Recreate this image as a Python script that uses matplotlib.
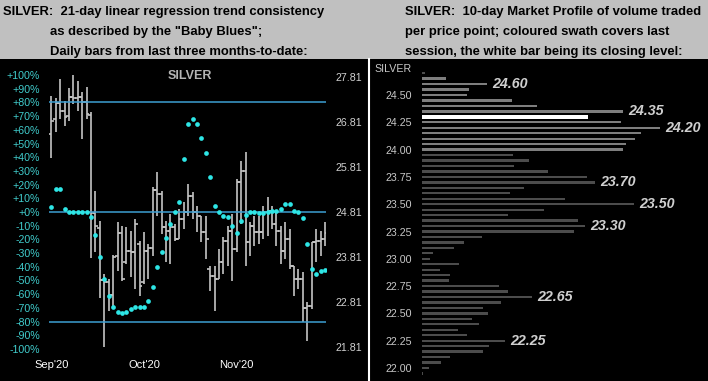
import numpy as np
import matplotlib.pyplot as plt
from matplotlib.patches import Rectangle
from matplotlib.lines import Line2D

plt.rcParams['font.family'] = ['Liberation Sans', 'DejaVu Sans']

# --- left panel: daily OHLC bars + "Baby Blues" (21-day trend consistency, %) ---
highs = [27.39, 27.34, 27.77, 27.28, 27.56, 27.88, 27.71, 27.47, 27.58, 27.03,
         25.28, 24.60, 23.43, 23.32, 23.85, 24.59, 24.50, 24.48, 24.39, 24.65,
         24.17, 24.37, 24.10, 25.37, 25.70, 25.28, 24.61, 24.77, 24.54, 24.88,
         25.03, 25.43, 25.25, 24.94, 24.72, 24.72, 23.61, 23.61, 23.99, 24.25,
         24.50, 24.77, 25.54, 25.94, 26.14, 24.59, 24.72, 24.72, 24.94, 25.14,
         24.94, 24.81, 24.50, 24.59, 24.43, 23.61, 23.54, 23.48, 22.81, 24.14,
         24.43, 24.39, 24.59]
lows = [26.00, 26.58, 26.88, 26.73, 26.84, 27.21, 27.06, 26.43, 26.88, 23.79,
        23.92, 22.90, 21.81, 22.61, 22.70, 23.50, 23.28, 23.65, 23.37, 23.10,
        22.94, 23.21, 23.32, 23.83, 24.72, 24.32, 23.70, 23.65, 24.17, 24.21,
        24.43, 24.72, 24.65, 24.37, 24.14, 23.77, 23.05, 22.61, 23.32, 23.43,
        23.61, 23.28, 23.92, 24.54, 23.61, 23.83, 24.05, 24.10, 24.21, 24.28,
        24.43, 24.05, 23.65, 23.77, 23.54, 22.94, 23.10, 22.37, 21.94, 22.65,
        23.70, 23.83, 24.05]
opens = [26.54, 26.88, 27.23, 27.06, 26.94, 27.36, 27.34, 27.36, 27.26, 26.97,
         24.79, 24.45, 23.30, 23.25, 22.97, 23.83, 24.34, 23.70, 23.94, 23.92,
         24.10, 23.25, 23.94, 24.01, 25.30, 25.21, 24.48, 24.39, 24.48, 24.21,
         24.65, 24.81, 25.17, 24.81, 24.72, 24.37, 23.55, 23.39, 23.32, 23.70,
         24.17, 24.39, 23.99, 25.48, 25.72, 24.14, 24.50, 24.37, 24.37, 24.81,
         24.83, 24.54, 24.39, 23.94, 24.21, 23.61, 23.32, 23.32, 22.68, 22.72,
         24.14, 24.17, 24.21]
closes = [26.84, 27.23, 27.06, 26.93, 27.36, 27.34, 27.36, 27.26, 26.99, 24.79,
          24.51, 23.30, 23.25, 22.97, 23.81, 24.34, 23.32, 23.94, 23.92, 24.55,
          23.17, 23.94, 24.01, 25.30, 25.21, 24.48, 24.39, 24.48, 24.21, 24.65,
          24.81, 25.17, 24.81, 24.72, 24.37, 24.21, 23.39, 23.32, 23.70, 24.17,
          24.39, 23.99, 25.48, 25.72, 24.14, 24.50, 24.37, 24.37, 24.81, 24.83,
          24.54, 24.39, 23.94, 24.21, 23.61, 23.32, 23.32, 22.68, 22.72, 24.14,
          24.17, 24.21, 24.34]
blues = [4, 16.5, 16.5, 2.4, 0, 0, 0, 0, 0, -4,
         -17, -33, -49, -61, -69, -73, -74, -73, -71, -69,
         -69, -69, -65, -55, -40, -29, -19, -9, 0, 7.5,
         39, 64, 68, 64, 54, 43, 25.7, 4.6, 0, -2.7,
         -3.4, -10, -15.5, -6.5, -2, 0, 0, -0.5, -0.5, 0.2,
         0.7, 1, 2.2, 5.6, 5.6, 1, 0.2, -4.2, -23.5, -41.5,
         -45.3, -43.4, -42.7]
month_labels = ["Sep'20", "Oct'20", "Nov'20"]
month_pos = [0, 21, 42]
price_ticks = [27.81, 26.81, 25.81, 24.81, 23.81, 22.81, 21.81]
price_mid = 24.81
price_span = 3.044   # price move equal to 100% on the left scale

# --- right panel: 10-day market profile ---
profile_top = 24.70
profile_volume = [3, 24, 65, 47, 45, 90, 115, 201, 166, 199, 238, 219, 213, 204, 201,
                  91, 107, 92, 126, 165, 173, 102, 88, 143, 212, 122, 86, 156, 163, 152,
                  60, 42, 32, 11, 8, 37, 18, 28, 27, 77, 86, 110, 79, 61, 66,
                  50, 57, 36, 45, 83, 67, 61, 28, 19, 7, 1]
profile_levels = np.round(profile_top - 0.05 * np.arange(len(profile_volume)), 2)
peak_labels = [24.60, 24.35, 24.20, 23.70, 23.50, 23.30, 22.65, 22.25]
session_low, session_high = 24.00, 24.65
last_close = 24.30
profile_ticks = [22.00, 22.25, 22.50, 22.75, 23.00, 23.25, 23.50, 23.75, 24.00, 24.25, 24.50]

W, H = 708, 381
fig = plt.figure(figsize=(W / 100, H / 100), dpi=100)
fig.patch.set_facecolor('#c0c0c0')
top = 59
fig.add_artist(Rectangle((0, 0), 1, 1 - top / H, transform=fig.transFigure,
                         facecolor='black', edgecolor='none', zorder=0))
fig.add_artist(Line2D([368.5 / W] * 2, [0, 1 - top / H], transform=fig.transFigure,
                      color='white', lw=1.5))


def px_axes(x0, y0, x1, y1):
    a = fig.add_axes([x0 / W, 1 - y1 / H, (x1 - x0) / W, (y1 - y0) / H])
    a.set_facecolor('none')
    for s in a.spines.values():
        s.set_visible(False)
    return a


# header text
hdr = dict(fontsize=9.4, fontweight='bold', color='black', va='center', ha='left')
left_hdr = ["SILVER:  21-day linear regression trend consistency",
            "as described by the \"Baby Blues\";",
            "Daily bars from last three months-to-date:"]
right_hdr = ["SILVER:  10-day Market Profile of volume traded",
             "per price point; coloured swath covers last",
             "session, the white bar being its closing level:"]
for k, (lx, t) in enumerate(zip([3, 50, 50], left_hdr)):
    fig.text(lx / W, 1 - (11.7 + 20 * k) / H, t, **hdr)
for k, t in enumerate(right_hdr):
    fig.text(405 / W, 1 - (11.7 + 20 * k) / H, t, **hdr)

# left chart
ax = px_axes(49, 75, 326, 349)
n = len(closes)
idx = np.arange(n)
ax.set_xlim(-0.52, n - 1 + 0.23)
ax.set_ylim(-100, 100)
for lvl in (80, 0, -80):
    ax.axhline(lvl, color='#3d9fd2', lw=1.1, zorder=1)
ax.set_yticks(range(-100, 101, 10))
ax.set_yticklabels([('+%d%%' % v) if v >= 0 else ('%d%%' % v) for v in range(-100, 101, 10)])
ax.tick_params(axis='y', length=0, pad=6.5, labelsize=7.7, labelcolor='#40cccc')
ax.set_xticks(month_pos)
ax.set_xticklabels(month_labels)
ax.tick_params(axis='x', length=0, pad=8, labelsize=8, labelcolor='white')

axp = ax.twinx()
for s in axp.spines.values():
    s.set_visible(False)
axp.set_facecolor('none')
axp.set_ylim(price_mid - price_span, price_mid + price_span)
axp.set_yticks(price_ticks)
axp.set_yticklabels(['%.2f' % p for p in price_ticks])
axp.tick_params(axis='y', length=0, pad=6.5, labelsize=7.7, labelcolor='#d0d0d0')
bar_col = '#c4c4c4'
axp.vlines(idx, lows, highs, color=bar_col, lw=1.2, zorder=2)
axp.hlines(opens, idx - 0.65, idx, color=bar_col, lw=1.2, zorder=2)
axp.hlines(closes, idx, idx + 0.65, color=bar_col, lw=1.2, zorder=2)
ax.set_zorder(axp.get_zorder() + 1)
ax.plot(idx, blues, 'o', color='#2ee6e6', ms=3.4, mec='none', zorder=4)
fig.text(190 / W, 1 - 76 / H, 'SILVER', fontsize=9, fontweight='bold',
         color='#b4b4b4', ha='center', va='center')

# right chart: market profile
axr = px_axes(422.3, top, 708, 381)
y_hi = 24.50 + (95 - top) * 0.25 / 27.3
y_lo = 24.50 - (381 - 95) * 0.25 / 27.3
axr.set_ylim(y_lo, y_hi)
axr.set_xlim(0, 285.7)
cols = []
for lv in profile_levels:
    if abs(lv - last_close) < 1e-6:
        cols.append('white')
    elif session_low - 1e-6 <= lv <= session_high + 1e-6:
        cols.append('#7e7e7e')
    else:
        cols.append('#4c4c4c')
heights = [0.031 if abs(lv - last_close) < 1e-6 else 0.021 for lv in profile_levels]
axr.barh(profile_levels, profile_volume, height=heights, color=cols, align='center')
vol_at = dict(zip(profile_levels, profile_volume))
for lv in peak_labels:
    axr.text(vol_at[round(lv, 2)] + 5, lv, '%.2f' % lv, fontsize=10.3,
             fontweight='bold', fontstyle='italic', color='#cfcfcf',
             va='center', ha='left')
axr.set_xticks([])
axr.set_yticks(profile_ticks + [24.75])
axr.set_yticklabels(['%.2f' % p for p in profile_ticks] + ['SILVER'])
axr.tick_params(axis='y', length=0, pad=7.4, labelsize=7.7, labelcolor='#c8c8c8')

fig.savefig('out.png', dpi=100, facecolor=fig.get_facecolor())
